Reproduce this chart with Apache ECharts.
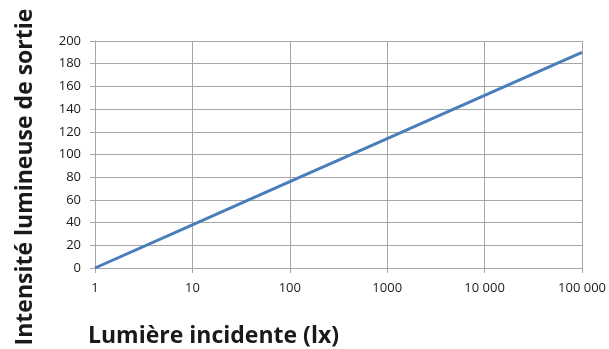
<!DOCTYPE html>
<html><head><meta charset="utf-8">
<script src="https://cdn.jsdelivr.net/npm/echarts@6/dist/echarts.min.js"></script>
<style>html,body{margin:0;padding:0;background:#fff}#c{width:609px;height:349px}</style>
</head><body><div id="c"></div>
<script>
const xValues = [1, 10, 100, 1000, 10000, 100000];
const yValues = [0, 38, 76, 114, 152, 190];
const xTickLabels = {1: '1', 10: '10', 100: '100', 1000: '1000', 10000: '10 000', 100000: '100 000'};
const xTitle = 'Lumière incidente (lx)';
const yTitle = 'Intensité lumineuse de sortie';

const chart = echarts.init(document.getElementById('c'));
const gridColor = '#a6a6a6';
chart.setOption({
  animation: false,
  grid: {left: 95, right: 25, top: 41, bottom: 81},
  xAxis: {
    type: 'log', logBase: 10, min: 1, max: 100000,
    axisLine: {lineStyle: {color: gridColor, width: 1}},
    axisTick: {show: true, length: 5, lineStyle: {color: gridColor}},
    splitLine: {show: true, lineStyle: {color: gridColor, width: 1}},
    minorTick: {show: false},
    axisLabel: {color: '#1a1a1a', fontFamily: 'Open Sans', fontSize: 13, margin: 14,
      formatter: v => xTickLabels[Math.round(v)] ?? ''}
  },
  yAxis: {
    type: 'value', min: 0, max: 200, interval: 20,
    axisLine: {show: true, lineStyle: {color: gridColor, width: 1}},
    axisTick: {show: true, length: 5, lineStyle: {color: gridColor}},
    splitLine: {show: true, lineStyle: {color: gridColor, width: 1}},
    axisLabel: {color: '#1a1a1a', fontFamily: 'Open Sans', fontSize: 13, margin: 14}
  },
  series: [{
    type: 'line',
    data: xValues.map((x, i) => [x, yValues[i]]),
    showSymbol: false,
    lineStyle: {color: '#4a7ebb', width: 3},
    itemStyle: {color: '#4a7ebb'}
  }],
  graphic: [
    {type: 'text', x: 88, y: 336,
      style: {text: xTitle, font: 'bold 23px "Open Sans"', fill: '#1a1a1a', verticalAlign: 'middle'}},
    {type: 'text', x: 25, y: 177, rotation: Math.PI / 2,
      style: {text: yTitle, font: 'bold 23px "Open Sans"', fill: '#1a1a1a', align: 'center', verticalAlign: 'middle'}}
  ]
});
</script></body></html>
